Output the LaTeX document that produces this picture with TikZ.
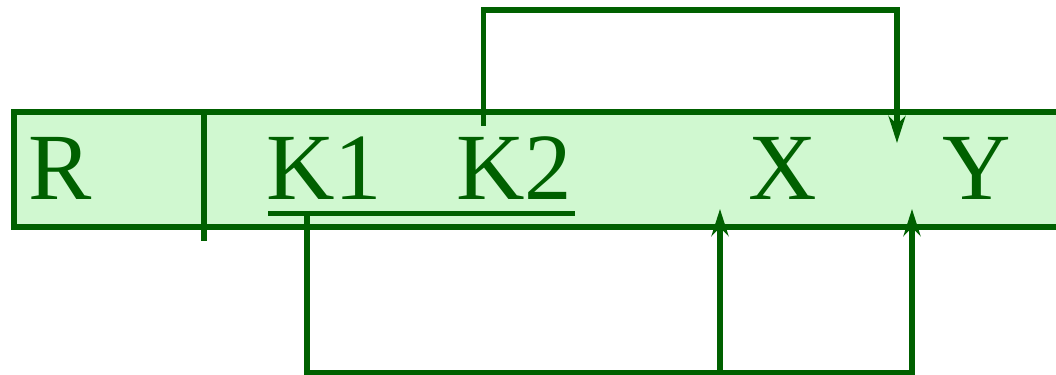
\documentclass[tikz,border=0pt]{standalone}
\usepackage{fontspec}
\setmainfont{Liberation Serif}
\usepackage{xcolor}
\usetikzlibrary{arrows.meta, positioning}
\definecolor{keygreen}{RGB}{0,96,0}
\definecolor{rowfill}{RGB}{208,248,208}
\tikzset{
	attr/.style={inner sep=0pt, anchor=base west, text=keygreen, font=\fontsize{54}{60}\selectfont},
	rowline/.style={draw=keygreen, line width=3.1pt},
	deparr/.style={draw=keygreen, line width=2.9pt, -{Stealth[length=0.54cm, width=0.34cm, inset=0.17cm]}},
}

\begin{document}
\begin{tikzpicture}[x=0.02cm, y=-0.02cm]
	\useasboundingbox (0,0) rectangle (1056,375);

	% Relation row
	\fill[rowfill] (14,112) rectangle (1090,227);
	\draw[rowline] (1090,112) -- (14,112) -- (14,227) -- (1090,227);
	\draw[rowline] (204,112) -- (204,241);

	% Attributes
	\node[attr] (R) at (28,200) {R};
	\node[attr] (K1) at (266,200) {K1};
	\node[attr] (K2) at (456,200) {K2};
	\node[attr] (X) at (748,200) {X};
	\node[attr] (Y) at (942,200) {Y};

	% Key underline
	\coordinate (keyL) at (268,213.5);
	\coordinate (keyR) at (575,213.5);
	\draw[rowline] (keyL) -- (keyR);

	% Dependency ends
	\coordinate (k2foot) at (483.5,126);
	\coordinate (toprail) at (690,10);
	\coordinate (ytop) at (897,143);
	\coordinate (k1foot) at (307,211);
	\coordinate (botrail) at (720,372.5);
	\coordinate (xbot) at (720,209);
	\coordinate (ybot) at (912,209);

	% Arrows
	\draw[deparr] (k2foot) |- (toprail) -| (ytop);
	\draw[deparr] (k1foot) |- (botrail) -| (ybot);
	\draw[deparr] (botrail) -- (xbot);
\end{tikzpicture}
\end{document}
